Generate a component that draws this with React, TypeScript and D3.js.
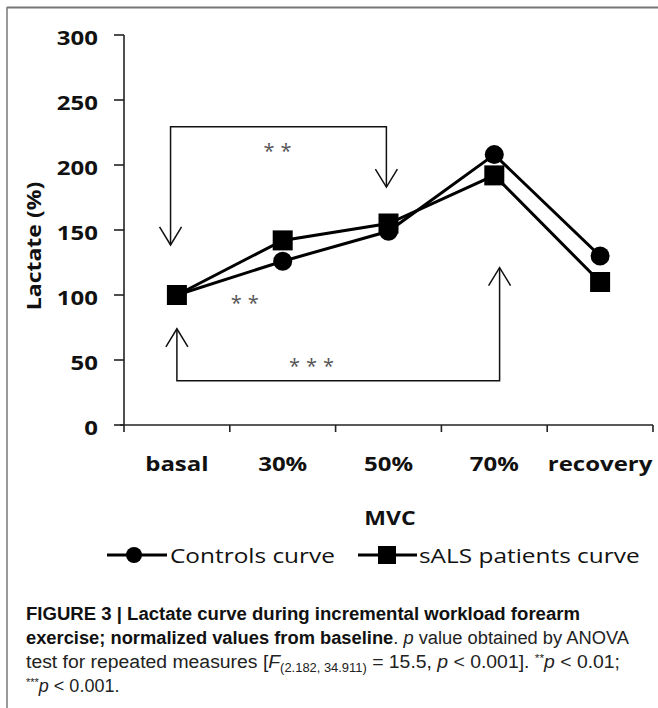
import React from 'react';
import * as d3 from 'd3';

// values (lactate, % of basal)
const categories = ['basal', '30%', '50%', '70%', 'recovery'];
const controls = [100, 126, 149, 208, 130];
const sals = [100, 142, 155, 192, 110];
const yTicks = [0, 50, 100, 150, 200, 250, 300];

// significance brackets, x in category index units, y in data units
const bracketFrom = [-0.06, 0];
const bracketTo = [1.98, 3.05];
const bracketLevel = [229.5, 34];
const bracketTipFrom = [138.5, 74];
const bracketTipTo = [183, 121];
const starText = ['**', '**', '***'];
const starIdx = [0.98, 0.67, 1.3];
const starVal = [212, 95.6, 47];

const W = 658;
const H = 708;
const chartFont = "'Open Sans', 'Liberation Sans', sans-serif";
const capFont = "'Liberation Sans Narrow', 'Liberation Sans', Arial, sans-serif";

function App() {
  const x = d3.scaleBand().domain(categories).range([124, 653]).padding(0);
  const y = d3.scaleLinear().domain([0, 300]).range([425, 35]);
  const xi = d3.scaleLinear()
    .domain([0, categories.length - 1])
    .range([x(categories[0])! + x.bandwidth() / 2, x(categories[categories.length - 1])! + x.bandwidth() / 2]);

  const line = d3.line<number>().x((d, i) => xi(i)).y(d => y(d));
  const boundaries = categories.map(c => x(c)!).concat([x.range()[1]]);

  const arrowHead = (px: number, py: number, down: boolean) => {
    const s = down ? -1 : 1;
    return `M${px - 11},${py + s * 18}L${px},${py}L${px + 11},${py + s * 18}`;
  };

  return (
    <svg width={W} height={H} style={{ position: 'absolute', left: 0, top: 0, background: '#fff' }}>
      {/* frame */}
      <line x1={7} x2={W} y1={7.5} y2={7.5} stroke="#777" strokeWidth={2} />
      <line x1={7} x2={7} y1={7} y2={H} stroke="#777" strokeWidth={1.5} />

      {/* y axis */}
      <line x1={124} x2={124} y1={y(300)} y2={y(0)} stroke="#222" strokeWidth={1.6} />
      {yTicks.map(t => (
        <g key={t}>
          <line x1={114} x2={124} y1={y(t)} y2={y(t)} stroke="#222" strokeWidth={1.6} />
          <text transform={`translate(98,${y(t) + 2}) scale(1.2,1)`} textAnchor="end" dominantBaseline="central"
            fontFamily={chartFont} fontWeight="bold" fontSize={20} fill="#111">{t}</text>
        </g>
      ))}
      <text transform={`translate(33,246) rotate(-90) scale(1.15,1)`} textAnchor="middle" dominantBaseline="central"
        fontFamily={chartFont} fontWeight="bold" fontSize={20} fill="#111">Lactate (%)</text>

      {/* x axis */}
      <line x1={120} x2={653} y1={y(0)} y2={y(0)} stroke="#222" strokeWidth={1.6} />
      {boundaries.map((b, i) => (
        <line key={i} x1={b} x2={b} y1={y(0)} y2={y(0) + 7} stroke="#222" strokeWidth={1.6} />
      ))}
      {categories.map((c, i) => (
        <text key={c} transform={`translate(${xi(i)},463) scale(1.2,1)`} textAnchor="middle" dominantBaseline="central"
          fontFamily={chartFont} fontWeight="bold" fontSize={20} fill="#111">{c}</text>
      ))}
      <text transform={`translate(390,517) scale(1.15,1)`} textAnchor="middle" dominantBaseline="central"
        fontFamily={chartFont} fontWeight="bold" fontSize={20} fill="#111">MVC</text>

      {/* brackets */}
      {bracketFrom.map((f, i) => {
        const x1 = xi(f), x2 = xi(bracketTo[i]);
        const yl = y(bracketLevel[i]);
        const t1 = y(bracketTipFrom[i]), t2 = y(bracketTipTo[i]);
        const down = t1 > yl;
        return (
          <g key={i} fill="none" stroke="#111" strokeWidth={1.5}>
            <path d={`M${x1},${t1}L${x1},${yl}L${x2},${yl}L${x2},${t2}`} />
            <path d={arrowHead(x1, t1, down)} />
            <path d={arrowHead(x2, t2, down)} />
          </g>
        );
      })}
      {starText.map((s, i) => (
        <text key={i} x={xi(starIdx[i])} y={y(starVal[i]) + 9} textAnchor="middle" fontFamily={chartFont}
          fontSize={20} letterSpacing={6} fill="#555">{s}</text>
      ))}

      {/* series */}
      <path d={line(controls)!} fill="none" stroke="#000" strokeWidth={3} />
      <path d={line(sals)!} fill="none" stroke="#000" strokeWidth={3} />
      {controls.map((v, i) => (
        <circle key={'c' + i} cx={xi(i)} cy={y(v)} r={9.5} fill="#000" />
      ))}
      {sals.map((v, i) => (
        <rect key={'s' + i} x={xi(i) - 10} y={y(v) - 10} width={20} height={20} fill="#000" />
      ))}

      {/* legend */}
      <g>
        <line x1={107} x2={167} y1={555} y2={555} stroke="#000" strokeWidth={3} />
        <circle cx={134} cy={555} r={8} fill="#000" />
        <text transform="translate(170,555) scale(1.22,1)" dominantBaseline="central" fontFamily={chartFont}
          fontSize={20} fill="#111">Controls curve</text>
        <line x1={358} x2={417} y1={555} y2={555} stroke="#000" strokeWidth={3} />
        <rect x={378} y={546} width={18} height={18} fill="#000" />
        <text transform="translate(419,555) scale(1.22,1)" dominantBaseline="central" fontFamily={chartFont}
          fontSize={20} fill="#111">sALS patients curve</text>
      </g>

      {/* caption */}
      <g fontFamily={capFont} fontSize={18} fill="#222">
        <text x={26} y={620} textLength={554} lengthAdjust="spacingAndGlyphs" fontWeight="bold" fill="#111">
          FIGURE 3 | Lactate curve during incremental workload forearm
        </text>
        <text x={26} y={644} textLength={603} lengthAdjust="spacingAndGlyphs">
          <tspan fontWeight="bold" fill="#111">exercise; normalized values from baseline</tspan>
          <tspan>. </tspan>
          <tspan fontStyle="italic">p</tspan>
          <tspan> value obtained by ANOVA</tspan>
        </text>
        <text x={26} y={668} textLength={594} lengthAdjust="spacingAndGlyphs">
          <tspan>test for repeated measures [</tspan>
          <tspan fontStyle="italic">F</tspan>
          <tspan fontSize={12} dy={4}>(2.182, 34.911)</tspan>
          <tspan dy={-4}> = 15.5, </tspan>
          <tspan fontStyle="italic">p</tspan>
          <tspan> &lt; 0.001]. </tspan>
          <tspan fontSize={11} dy={-6}>**</tspan>
          <tspan fontStyle="italic" dy={6}>p</tspan>
          <tspan> &lt; 0.01;</tspan>
        </text>
        <text x={26} y={692}>
          <tspan fontSize={11} dy={-6}>***</tspan>
          <tspan fontStyle="italic" dy={6}>p</tspan>
          <tspan> &lt; 0.001.</tspan>
        </text>
      </g>
    </svg>
  );
}

export default App;
